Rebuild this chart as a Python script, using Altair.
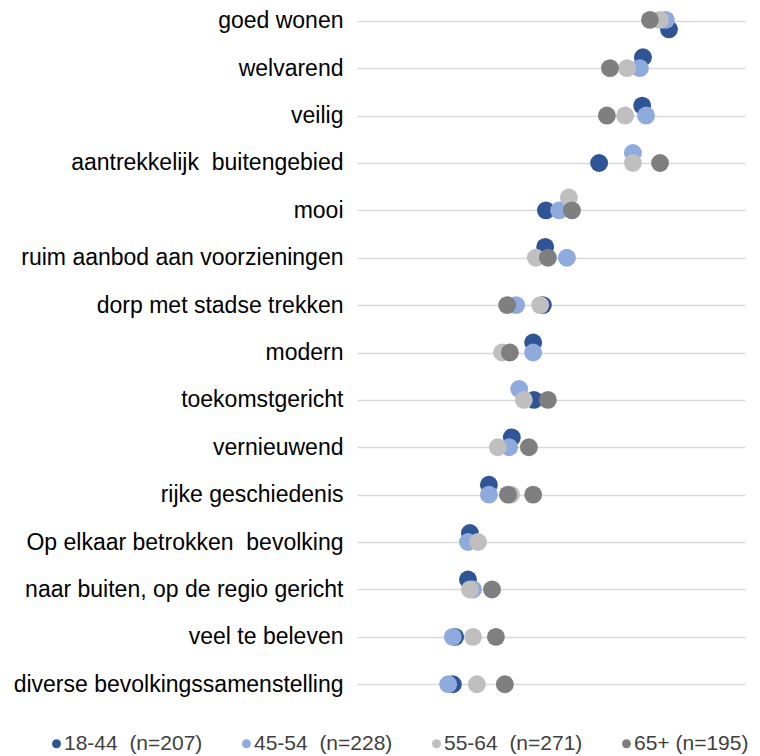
import json
import altair as alt
import pandas as pd

# Categories (top to bottom)
categories = [
    "goed wonen",
    "welvarend",
    "veilig",
    "aantrekkelijk\u00a0 buitengebied",
    "mooi",
    "ruim aanbod aan voorzieningen",
    "dorp met stadse trekken",
    "modern",
    "toekomstgericht",
    "vernieuwend",
    "rijke geschiedenis",
    "Op elkaar betrokken\u00a0 bevolking",
    "naar buiten, op de regio gericht",
    "veel te beleven",
    "diverse bevolkingssamenstelling",
]

series = ["18-44\u00a0 (n=207)", "45-54\u00a0 (n=228)", "55-64\u00a0 (n=271)", "65+ (n=195)"]
colors = ["#2F5597", "#8FAADC", "#BFBFBF", "#7F7F7F"]

# Scores (% of respondents)
x_18_44 = [80.4, 73.7, 73.5, 62.4, 48.7, 48.5, 47.9, 45.4, 45.6, 39.9, 34.0, 29.1, 28.6, 25.3, 24.7]
x_45_54 = [79.6, 72.9, 74.5, 71.1, 52.1, 54.1, 41.0, 45.4, 41.8, 39.2, 34.0, 28.6, 29.9, 24.7, 23.5]
x_55_64 = [78.1, 69.6, 69.1, 71.1, 54.6, 46.1, 47.2, 37.4, 43.0, 36.3, 39.7, 31.2, 29.1, 29.9, 30.9]
x_65 = [75.5, 65.2, 64.4, 78.1, 55.4, 49.2, 38.7, 39.4, 49.2, 44.3, 45.4, 38.9, 34.8, 35.8, 38.1]

# Vertical position of each point (row number, as in the original scatter)
y_18_44 = [0.18, 0.77, 1.79, 3, 4, 4.77, 6, 6.79, 8, 8.79, 9.79, 10.81, 11.79, 13, 14]
y_45_54 = [-0.02, 1, 2, 2.79, 4, 5, 6, 7, 7.77, 9, 10, 11, 12, 13, 14]
y_55_64 = [-0.02, 1, 2, 3, 3.73, 5, 6, 7, 8, 9, 10, 11, 12, 13, 14]
y_65 = [-0.02, 1, 2, 3, 4, 5, 6, 7, 8, 9, 10, 10, 12, 13, 14]

xs = [x_18_44, x_45_54, x_55_64, x_65]
ys = [y_18_44, y_45_54, y_55_64, y_65]

rows = []
for s, xv, yv in zip(series, xs, ys):
    for cat, x, y in zip(categories, xv, yv):
        rows.append({"group": s, "item": cat, "value": x, "row": y})
df = pd.DataFrame(rows)

label_expr = json.dumps(categories) + "[datum.value]"

chart = (
    alt.Chart(df)
    .mark_circle(size=320, opacity=1)
    .encode(
        x=alt.X("value:Q", scale=alt.Scale(domain=[0, 100], nice=False, zero=False), axis=None),
        y=alt.Y(
            "row:Q",
            scale=alt.Scale(domain=[-0.27, 14.27], reverse=True, nice=False, zero=False),
            axis=alt.Axis(
                values=list(range(15)),
                labelExpr=label_expr,
                grid=True,
                gridColor="#D9D9D9",
                gridWidth=1.3,
                ticks=False,
                domain=False,
                labelPadding=14,
                labelLimit=400,
                labelFont="Liberation Sans",
                labelFontSize=23,
                labelColor="#000000",
                minExtent=349,
                maxExtent=349,
                title=None,
            ),
        ),
        color=alt.Color(
            "group:N",
            scale=alt.Scale(domain=series, range=colors),
            legend=alt.Legend(
                orient="none",
                legendX=-311,
                legendY=725,
                direction="horizontal",
                columns=4,
                title=None,
                symbolType="circle",
                symbolSize=80,
                symbolOpacity=1,
                symbolStrokeWidth=0,
                labelFont="Liberation Sans",
                labelFontSize=21,
                labelColor="#404040",
                labelOffset={"expr": "-3"},
                columnPadding=33,
                labelLimit=300,
            ),
        ),
        tooltip=["group", "item", "value"],
    )
    .properties(width=388, height=689, padding=0)
    .configure_view(stroke=None)
)

chart.save("out.html", embed_options={"renderer": "svg", "actions": False})
